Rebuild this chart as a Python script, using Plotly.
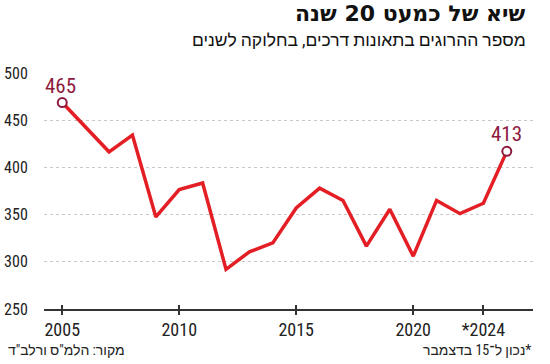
import plotly.graph_objects as go

years = list(range(2005, 2025))
deaths = [468.7, 442.6, 416.5, 434.2, 347.5, 376.5, 383.5, 292, 310.6, 320,
          357, 378, 365, 316.6, 355.6, 306, 365, 351, 362, 417]
label_idx = [0, 19]
label_text = ["465", "413"]
tick_vals = [2005, 2010, 2015, 2020, 2023]
tick_text = ["2005", "2010", "2015", "2020", "*2024"]
y_ticks = [250, 300, 350, 400, 450, 500]

title = "שיא של כמעט 20 שנה"
subtitle = "מספר ההרוגים בתאונות דרכים, בחלוקה לשנים"
source = "מקור: הלמ\"ס ורלב\"ד"
note = "נכון ל־15 בדצמבר*"

FONT = "Liberation Sans Narrow, Roboto Condensed, Roboto, Liberation Sans, DejaVu Sans"
RED = "#e31e24"
DARK = "#8e1b3e"

fig = go.Figure()
fig.add_trace(go.Scatter(x=years, y=deaths, mode="lines",
                         line=dict(color=RED, width=3.5), hoverinfo="x+y"))
fig.add_trace(go.Scatter(x=[years[i] for i in label_idx], y=[deaths[i] for i in label_idx],
                         mode="markers",
                         marker=dict(size=9, color="white", line=dict(color=DARK, width=2)),
                         hoverinfo="skip"))
# inside ticks on an overlaid axis so ticks cross the axis line
fig.add_trace(go.Scatter(x=[years[0]], y=[deaths[0]], xaxis="x2", mode="markers",
                         marker=dict(opacity=0), hoverinfo="skip"))

anns = []
for i, t in zip(label_idx, label_text):
    anns.append(dict(x=years[i], y=deaths[i], text=t, showarrow=False, yshift=17,
                     xshift=-2 if i == 0 else 0,
                     font=dict(family=FONT, size=21, color=DARK)))
anns.append(dict(xref="paper", yref="paper", x=0.99, y=1.252, xanchor="right", yanchor="middle",
                 text="<b>" + title + "</b>", showarrow=False,
                 font=dict(family="DejaVu Sans, Liberation Sans", size=22, color="#111")))
anns.append(dict(xref="paper", yref="paper", x=0.99, y=1.14, xanchor="right", yanchor="middle",
                 text=subtitle, showarrow=False,
                 font=dict(family=FONT, size=17.5, color="#111")))
anns.append(dict(xref="paper", yref="paper", x=-0.078, y=-0.174, xanchor="left", yanchor="middle",
                 text=source, showarrow=False,
                 font=dict(family=FONT, size=14, color="#222")))
anns.append(dict(xref="paper", yref="paper", x=1.0, y=-0.174, xanchor="right", yanchor="middle",
                 text=note, showarrow=False,
                 font=dict(family=FONT, size=14, color="#222")))

fig.update_layout(
    width=550, height=364,
    margin=dict(l=44, r=17, t=73, b=55),
    paper_bgcolor="white", plot_bgcolor="white",
    showlegend=False,
    annotations=anns,
    xaxis=dict(range=[2004.22, 2025.12], tickvals=tick_vals, ticktext=tick_text,
               automargin=False,
               showgrid=False, zeroline=False, showline=True, linecolor="#333", linewidth=1.5,
               ticks="outside", ticklen=4, tickwidth=1.5, tickcolor="#333",
               tickfont=dict(family=FONT, size=18, color="#222")),
    xaxis2=dict(range=[2004.22, 2025.12], tickvals=tick_vals, overlaying="x", side="bottom",
                automargin=False,
                showticklabels=False, showgrid=False, zeroline=False, showline=False,
                ticks="inside", ticklen=4, tickwidth=1.5, tickcolor="#333"),
    yaxis=dict(range=[250, 500], tickvals=y_ticks, showgrid=True, gridcolor="#c8c8c8",
               automargin=False,
               griddash="dot", gridwidth=1, zeroline=False, showline=False,
               ticks="outside", ticklen=12, tickcolor="rgba(0,0,0,0)",
               tickfont=dict(family=FONT, size=16, color="#222")),
)

fig.write_html("out.html", config={"displayModeBar": False},
               post_script="document.body.style.margin='0';document.body.style.overflow='hidden';")
